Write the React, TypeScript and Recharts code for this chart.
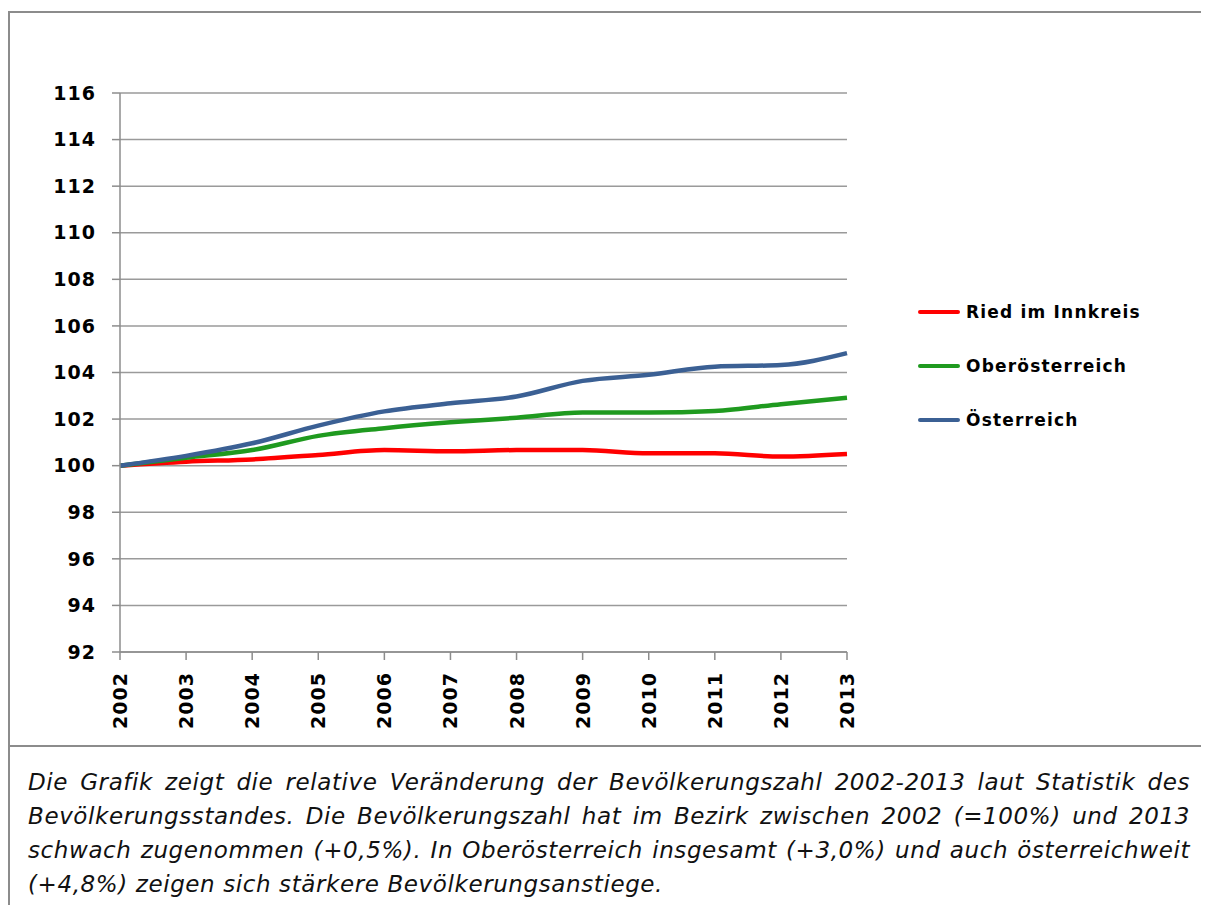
import { LineChart, Line, XAxis, YAxis, CartesianGrid } from 'recharts';

const years = ['2002', '2003', '2004', '2005', '2006', '2007', '2008', '2009', '2010', '2011', '2012', '2013'];
const ried = [100, 100.17, 100.27, 100.46, 100.67, 100.62, 100.67, 100.67, 100.53, 100.53, 100.39, 100.5];
const oberoesterreich = [100, 100.34, 100.67, 101.28, 101.61, 101.86, 102.06, 102.28, 102.28, 102.35, 102.64, 102.92];
const oesterreich = [100, 100.42, 100.96, 101.72, 102.33, 102.68, 102.97, 103.64, 103.9, 104.25, 104.32, 104.83];
const yTicks = [92, 94, 96, 98, 100, 102, 104, 106, 108, 110, 112, 114, 116];

const series = [
  { key: 'ried', name: 'Ried im Innkreis', color: '#ff0000' },
  { key: 'ooe', name: 'Oberösterreich', color: '#1f9a1f' },
  { key: 'oe', name: 'Österreich', color: '#3b6094' },
];

const data = years.map((year, i) => ({
  year,
  ried: ried[i],
  ooe: oberoesterreich[i],
  oe: oesterreich[i],
}));

const caption =
  'Die Grafik zeigt die relative Veränderung der Bevölkerungszahl 2002-2013 laut Statistik des Bevölkerungsstandes. Die Bevölkerungszahl hat im Bezirk zwischen 2002 (=100%) und 2013 schwach zugenommen (+0,5%). In Oberösterreich insgesamt (+3,0%) und auch österreichweit (+4,8%) zeigen sich stärkere Bevölkerungsanstiege.';

const tickFont = { fontFamily: 'DejaVu Sans', fontWeight: 700, fontSize: 19, letterSpacing: 1, fill: '#000' };

const YearTick = ({ x, y, payload }: any) => (
  <text
    x={x}
    y={y}
    transform={`rotate(-90 ${x} ${y})`}
    textAnchor="end"
    dominantBaseline="central"
    {...tickFont}
  >
    {payload.value}
  </text>
);

const App = () => {
  return (
    <div
      style={{
        marginTop: 3,
        width: 1210,
        borderLeft: '2px solid #8c8c8c',
        borderTop: '2px solid #8c8c8c',
        position: 'relative',
      }}
    >
      <style>{'body { overflow: hidden; }'}</style>
      <div style={{ position: 'relative', height: 732, borderBottom: '2px solid #8c8c8c' }}>
        <LineChart width={1199} height={732} data={data} margin={{ top: 80, right: 362, left: 0, bottom: 13 }}>
          <CartesianGrid vertical={false} stroke="#9a9a9a" strokeWidth={1.5} />
          <XAxis
            dataKey="year"
            interval={0}
            height={80}
            tickSize={8}
            tickMargin={12}
            stroke="#8c8c8c"
            strokeWidth={1.5}
            tick={<YearTick />}
          />
          <YAxis
            domain={[92, 116]}
            ticks={yTicks}
            width={110}
            tickSize={8}
            tickMargin={16}
            stroke="#8c8c8c"
            strokeWidth={1.5}
            tick={tickFont}
          />
          {series.map((s) => (
            <Line
              key={s.key}
              type="monotone"
              dataKey={s.key}
              name={s.name}
              stroke={s.color}
              strokeWidth={4.5}
              dot={false}
              isAnimationActive={false}
            />
          ))}
        </LineChart>
        <div style={{ position: 'absolute', left: 908, top: 272 }}>
          {series.map((s) => (
            <div key={s.key} style={{ display: 'flex', alignItems: 'center', height: 54 }}>
              <div style={{ width: 42, height: 4, background: s.color, borderRadius: 2, marginRight: 6 }} />
              <span
                style={{
                  fontFamily: 'DejaVu Sans',
                  fontWeight: 700,
                  fontSize: 17,
                  letterSpacing: 1.2,
                  color: '#000',
                }}
              >
                {s.name}
              </span>
            </div>
          ))}
        </div>
      </div>
      <div
        style={{
          width: 1162,
          padding: '18px 19px 4px 18px',
          fontFamily: 'DejaVu Sans',
          fontStyle: 'italic',
          fontSize: 23,
          letterSpacing: 0.6,
          lineHeight: '34px',
          textAlign: 'justify',
          color: '#111',
        }}
      >
        {caption}
      </div>
    </div>
  );
};

export default App;
